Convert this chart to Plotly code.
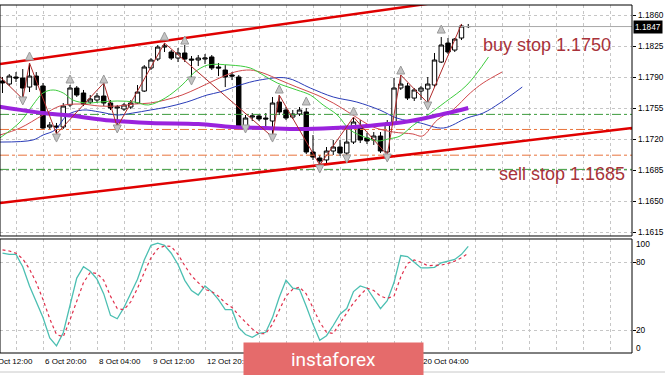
import plotly.graph_objects as go

# ---------------- data (H4 bars, index 0 = first visible bar) ----------------
bars = list(range(70))
opens = [1.17856, 1.17822, 1.17901, 1.17890, 1.17788, 1.17912, 1.17800, 1.17338, 1.17349, 1.17338,
         1.17586, 1.17777, 1.17721, 1.17619, 1.17642, 1.17687, 1.17608, 1.17552, 1.17540, 1.17563,
         1.17608, 1.17743, 1.18003, 1.18104, 1.18239, 1.18183, 1.18115, 1.18172, 1.18104, 1.18093,
         1.18104, 1.18127, 1.18014, 1.17980, 1.17924, 1.17901, 1.17326, 1.17450, 1.17462, 1.17439,
         1.17405, 1.17619, 1.17529, 1.17450, 1.17484, 1.17507, 1.17056, 1.16988, 1.16966, 1.17067,
         1.17112, 1.17044, 1.17168, 1.17338, 1.17214, 1.17191, 1.17236, 1.17056, 1.17383, 1.17777,
         1.17800, 1.17664, 1.17743, 1.17766, 1.17811, 1.18070, 1.18284, 1.18205, 1.18341, 1.18470]
highs = [1.17901, 1.17935, 1.17957, 1.17991, 1.18059, 1.17957, 1.17834, 1.17394, 1.17383, 1.17608,
         1.17811, 1.17800, 1.17755, 1.17698, 1.17721, 1.17834, 1.17642, 1.17586, 1.17608, 1.17642,
         1.17811, 1.18036, 1.18115, 1.18262, 1.18284, 1.18205, 1.18228, 1.18262, 1.18138, 1.18149,
         1.18160, 1.18149, 1.18059, 1.18036, 1.17957, 1.17924, 1.17473, 1.17495, 1.17484, 1.17495,
         1.17676, 1.17698, 1.17563, 1.17529, 1.17563, 1.17552, 1.17247, 1.17022, 1.17112, 1.17191,
         1.17191, 1.17326, 1.17450, 1.17416, 1.17270, 1.17281, 1.17281, 1.17416, 1.17890, 1.17924,
         1.17834, 1.17777, 1.17800, 1.17901, 1.18172, 1.18352, 1.18341, 1.18341, 1.18499, 1.18499]
lows = [1.17721, 1.17800, 1.17845, 1.17653, 1.17732, 1.17755, 1.17304, 1.17304, 1.17259, 1.17315,
        1.17563, 1.17676, 1.17574, 1.17597, 1.17608, 1.17574, 1.17529, 1.17338, 1.17518, 1.17540,
        1.17597, 1.17732, 1.17980, 1.18081, 1.18183, 1.18093, 1.18070, 1.18070, 1.17867, 1.18025,
        1.18048, 1.17980, 1.17912, 1.17788, 1.17867, 1.17304, 1.17304, 1.17405, 1.17405, 1.17326,
        1.17225, 1.17473, 1.17416, 1.17428, 1.17462, 1.17033, 1.16966, 1.16909, 1.16932, 1.17022,
        1.17011, 1.16999, 1.17146, 1.17157, 1.17146, 1.17135, 1.17044, 1.17022, 1.17360, 1.17755,
        1.17642, 1.17631, 1.17642, 1.17608, 1.17788, 1.18059, 1.18160, 1.18183, 1.18318, 1.18453]
closes = [1.17834, 1.17912, 1.17890, 1.17777, 1.17912, 1.17811, 1.17326, 1.17360, 1.17338, 1.17574,
          1.17777, 1.17698, 1.17597, 1.17653, 1.17687, 1.17608, 1.17552, 1.17563, 1.17586, 1.17608,
          1.17732, 1.18014, 1.18093, 1.18239, 1.18251, 1.18115, 1.18172, 1.18104, 1.18093, 1.18115,
          1.18115, 1.18003, 1.18003, 1.17901, 1.17912, 1.17326, 1.17439, 1.17462, 1.17428, 1.17428,
          1.17608, 1.17507, 1.17439, 1.17484, 1.17529, 1.17056, 1.16999, 1.16954, 1.17067, 1.17112,
          1.17044, 1.17168, 1.17394, 1.17191, 1.17180, 1.17236, 1.17067, 1.17383, 1.17777, 1.17822,
          1.17664, 1.17755, 1.17777, 1.17822, 1.18093, 1.18262, 1.18183, 1.18329, 1.18476, 1.18470]

# Alligator lines (shifted forward) and slow MA
jaw_x = [-0.4, 4.5, 6, 7.8, 9.6, 11.9, 14.4, 17, 19.3, 21.9, 24.4, 27.3, 30.3, 32.2, 35.2, 38.1,
         42.1, 45.6, 49, 52.5, 55.9, 58.4, 61.9, 65.3, 68.8, 71.2, 73.7, 77]
jaw_y = [1.17168, 1.17191, 1.17247, 1.17304, 1.17473, 1.17529, 1.17507, 1.17473, 1.17495, 1.17529,
         1.17563, 1.17619, 1.17698, 1.17732, 1.17811, 1.17867, 1.17890, 1.17777, 1.17676, 1.17619,
         1.17529, 1.17439, 1.17383, 1.17326, 1.17439, 1.17495, 1.17608, 1.17788]
teeth_x = [-0.4, 2.6, 6, 8.5, 11.5, 14.4, 17, 19.6, 21.9, 24.1, 26.6, 29, 31.5, 34.4, 36.7, 38.6,
           41.1, 43.6, 46.6, 49, 51.9, 54.9, 57.9, 60.8, 62.2, 64.4, 66.7, 69.3, 71.2, 74]
teeth_y = [1.17247, 1.17326, 1.17473, 1.17574, 1.17597, 1.17574, 1.17574, 1.17597, 1.17608, 1.17642,
           1.17698, 1.17777, 1.17867, 1.17957, 1.17980, 1.17946, 1.17867, 1.17788, 1.17698, 1.17608,
           1.17473, 1.17338, 1.17281, 1.17259, 1.17236, 1.17416, 1.17529, 1.17721, 1.17834, 1.17957]
lips_x = [-0.4, 2.6, 4.5, 6, 7.5, 9, 10.4, 12.5, 14.4, 17, 19.6, 21.6, 24.1, 26.6, 28.5, 30.4, 33.7,
          36.7, 38.6, 40.7, 43.6, 45.6, 47.5, 49.6, 51.5, 54, 55.6, 57.1, 58.9, 60.7, 62.6, 65.6, 68.8, 72]
lips_y = [1.17214, 1.17394, 1.17586, 1.17721, 1.17755, 1.17721, 1.17642, 1.17608, 1.17619, 1.17631,
          1.17619, 1.17586, 1.17664, 1.17811, 1.17957, 1.18036, 1.18036, 1.18003, 1.17924, 1.17834,
          1.17755, 1.17698, 1.17586, 1.17473, 1.17304, 1.17214, 1.17180, 1.17202, 1.17236, 1.17349,
          1.17450, 1.17619, 1.17811, 1.18127]
slow_ma_x = [-1, 6, 10, 16, 22, 29, 34, 39, 44, 49, 54, 57, 59, 62, 64, 66, 69]
slow_ma_y = [1.17574, 1.17495, 1.17467, 1.17411, 1.17383, 1.17371, 1.17338, 1.17326, 1.17315,
             1.17326, 1.17349, 1.17371, 1.17388, 1.17428, 1.17462, 1.17495, 1.17552]

# ZigZag pivots
zigzag_x = [-2, 3, 4, 8, 15, 17, 24, 40, 41, 47, 52, 57, 59, 63, 68]
zigzag_y = [1.18025, 1.17653, 1.18059, 1.17259, 1.17834, 1.17338, 1.18284, 1.17225, 1.17698,
            1.16909, 1.17450, 1.17022, 1.17924, 1.17608, 1.18499]

# Fractals
frac_up_x = [4, 10, 15, 24, 27, 41, 45, 52, 59, 65]
frac_up_y = [1.18183, 1.17924, 1.17924, 1.18408, 1.18363, 1.17811, 1.17676, 1.17563, 1.18025, 1.18487]
frac_dn_x = [3, 8, 17, 28, 36, 40, 47, 51, 57, 63]
frac_dn_y = [1.17586, 1.17168, 1.17270, 1.17811, 1.17270, 1.17168, 1.16819, 1.16932, 1.16943, 1.17529]

# Channel lines (two points each)
channel_up_x = [-0.37, 93.26]
channel_up_y = [1.18048, 1.19051]
channel_lo_x = [-0.37, 93.26]
channel_lo_y = [1.16481, 1.17326]

# Horizontal levels
levels_green = [1.1748, 1.1686]
levels_orange = [1.1731, 1.1702]
current_price = 1.1847

# Stochastic
stoch_main = [88, 87, 87, 76, 59, 45, 31, 13, 6, 17.6, 42, 66, 76, 72, 65, 52, 33, 30, 40, 52,
              65, 82, 95, 97, 95, 88, 78, 64, 55, 51, 59, 54, 47, 38, 38, 22, 16, 13.5, 17, 18,
              31, 49, 64, 57, 56, 41, 25, 11, 15, 24, 34, 39, 54, 59, 57, 48, 39, 46, 62, 86,
              85, 80, 75, 75, 75.5, 79.5, 81, 82.5, 87, 94]
stoch_signal = [91, 90, 88, 83, 74, 62, 47, 30, 16, 14, 29, 46, 62, 71, 70, 64, 50, 39, 38, 45,
                57, 71, 84, 92, 94.5, 94, 87, 77, 68, 62, 56, 54, 50, 44, 40, 33, 27, 21, 16.5, 17,
                25, 37, 50, 56, 58, 52, 40, 27, 18, 17, 26, 35, 44, 51, 57, 55, 50, 48, 50, 67,
                79, 82, 80, 77, 77, 77.5, 79, 81, 84, 88]
stoch_levels = [100, 80, 20, 0]

# Axis labels (those visible in the picture; the rest are hidden behind the logo)
price_ticks = [1.1860, 1.1825, 1.1790, 1.1755, 1.1720, 1.1685, 1.1650, 1.1615]
date_labels = ["5 Oct 12:00", "6 Oct 20:00", "8 Oct 04:00", "9 Oct 12:00", "12 Oct 20:00",
               "20 Oct 04:00"]
date_label_bars = [-2, 6, 14, 22, 30, 62]

notes = ["buy stop 1.1750", "sell stop 1.1685"]
note_x = [80.7, 82.9]
note_y = [1.18262, 1.16808]

# ---------------- figure ----------------
XR = [-0.37, 93.26]
GRID = '#C6C6C6'
FONT = 'Liberation Sans, Arial, sans-serif'

fig = go.Figure()

for lv in levels_green:
    fig.add_trace(go.Scatter(x=XR, y=[lv, lv], mode='lines', yaxis='y',
                             line=dict(color='#3C9A3C', width=1, dash='dashdot'), hoverinfo='skip'))
for lv in levels_orange:
    fig.add_trace(go.Scatter(x=XR, y=[lv, lv], mode='lines', yaxis='y',
                             line=dict(color='#E8733C', width=1, dash='dashdot'), hoverinfo='skip'))
fig.add_trace(go.Scatter(x=XR, y=[current_price, current_price], mode='lines', yaxis='y',
                         line=dict(color='#A8A8A8', width=1), hoverinfo='skip'))

fig.add_trace(go.Scatter(x=jaw_x, y=jaw_y, mode='lines', line=dict(color='#2A3CB8', width=1, shape='spline'), yaxis='y'))
fig.add_trace(go.Scatter(x=teeth_x, y=teeth_y, mode='lines', line=dict(color='#D0494B', width=1, shape='spline'), yaxis='y'))
fig.add_trace(go.Scatter(x=lips_x, y=lips_y, mode='lines', line=dict(color='#3ECC3E', width=1, shape='spline'), yaxis='y'))
fig.add_trace(go.Scatter(x=slow_ma_x, y=slow_ma_y, mode='lines', line=dict(color='#9A22DD', width=4, shape='spline'), yaxis='y'))

fig.add_trace(go.Scatter(x=channel_up_x, y=channel_up_y, mode='lines', line=dict(color='#E00000', width=2.5), yaxis='y'))
fig.add_trace(go.Scatter(x=channel_lo_x, y=channel_lo_y, mode='lines', line=dict(color='#E00000', width=2.5), yaxis='y'))

fig.add_trace(go.Scatter(x=zigzag_x, y=zigzag_y, mode='lines', line=dict(color='#B02A2A', width=1), yaxis='y'))

fig.add_trace(go.Candlestick(x=bars, open=opens, high=highs, low=lows, close=closes,
                             increasing=dict(fillcolor='white', line=dict(color='black', width=1)),
                             decreasing=dict(fillcolor='black', line=dict(color='black', width=1)),
                             whiskerwidth=0, yaxis='y', xaxis='x'))

fig.add_trace(go.Scatter(x=frac_up_x, y=frac_up_y, mode='markers', yaxis='y',
                         marker=dict(symbol='arrow-up', size=8, color='#C4C4C4', line=dict(color='#9A9A9A', width=1))))
fig.add_trace(go.Scatter(x=frac_dn_x, y=frac_dn_y, mode='markers', yaxis='y',
                         marker=dict(symbol='arrow-down', size=8, color='#C4C4C4', line=dict(color='#9A9A9A', width=1))))

fig.add_trace(go.Scatter(x=bars, y=stoch_main, mode='lines', yaxis='y2',
                         line=dict(color='#4CBFB2', width=1.3)))
fig.add_trace(go.Scatter(x=bars, y=stoch_signal, mode='lines', yaxis='y2',
                         line=dict(color='#E0304C', width=1.2, dash='dot')))

MAIN_DOM = [0.33621, 1.0]
STO_DOM = [0.0, 0.32759]

annotations = []
for t, xb, yv in zip(notes, note_x, note_y):
    annotations.append(dict(text=t, x=xb, y=yv, xref='x', yref='y', showarrow=False,
                            xanchor='center', yanchor='middle',
                            font=dict(family=FONT, size=18, color='#A8323A')))
for v in price_ticks:
    annotations.append(dict(text=f'{v:.4f}', x=1.0, xref='paper', xanchor='left', xshift=4,
                            y=v, yref='y', yanchor='middle', showarrow=False,
                            font=dict(family=FONT, size=8.3, color='black')))
annotations.append(dict(text=f'{current_price:.4f}', x=1.0, xref='paper', xanchor='left', xshift=1,
                        y=current_price, yref='y', yanchor='middle', showarrow=False,
                        bgcolor='black', borderpad=1, font=dict(family=FONT, size=8.3, color='white')))
shifts = {100: -4, 80: 0, 20: 0, 0: 5}
for lv in stoch_levels:
    annotations.append(dict(text=str(lv), x=1.0, xref='paper', xanchor='left', xshift=2,
                            y=lv, yref='y2', yanchor='middle', yshift=shifts[lv], showarrow=False,
                            font=dict(family=FONT, size=8.3, color='black')))
for lab, b in zip(date_labels, date_label_bars):
    px = (b - XR[0]) / (XR[1] - XR[0])
    annotations.append(dict(text=lab, x=px, xref='paper', xanchor='left', y=0, yref='paper',
                            yanchor='middle', yshift=-8, showarrow=False,
                            font=dict(family=FONT, size=8, color='black')))
annotations.append(dict(text='instaforex', x=(333.5 / 632), xref='paper', y=(353 - 359.5) / 348,
                        yref='paper', xanchor='center', yanchor='middle', showarrow=False,
                        width=177, height=31, bgcolor='#E56B6B',
                        font=dict(family='Roboto, sans-serif', size=19, color='white')))

shapes = [
    dict(type='rect', xref='paper', yref='paper', x0=0, x1=1, y0=MAIN_DOM[0], y1=MAIN_DOM[1],
         line=dict(color='black', width=1), layer='above'),
    dict(type='rect', xref='paper', yref='paper', x0=0, x1=1, y0=STO_DOM[0], y1=STO_DOM[1],
         line=dict(color='black', width=1), layer='above'),
    dict(type='line', xref='paper', yref='paper', x0=0, x1=1.06, y0=(353 - 372) / 348, y1=(353 - 372) / 348,
         line=dict(color='#C8C8C8', width=1)),
]

fig.update_layout(
    width=665, height=375, margin=dict(l=0, r=33, t=5, b=22),
    paper_bgcolor='white', plot_bgcolor='white', showlegend=False,
    boxgap=0.35, boxgroupgap=0,
    xaxis=dict(domain=[0, 1], range=XR, anchor='y2', showgrid=True, gridcolor=GRID,
               griddash='3px,3px', gridwidth=1, tick0=2, dtick=4, showticklabels=False,
               ticks='', zeroline=False, showline=False, rangeslider=dict(visible=False)),
    yaxis=dict(domain=MAIN_DOM, range=[1.16109, 1.18713], side='right', anchor='x',
               tickvals=price_ticks, showticklabels=False,
               showgrid=True, gridcolor=GRID, griddash='3px,3px', gridwidth=1,
               ticks='outside', ticklen=3, tickcolor='black', zeroline=False),
    yaxis2=dict(domain=STO_DOM, range=[-0.35, 100.6], side='right', anchor='x',
                tickvals=[20, 80], showticklabels=False, showgrid=True, gridcolor=GRID,
                griddash='3px,3px', gridwidth=1, ticks='outside', ticklen=3, tickcolor='black',
                zeroline=False),
    annotations=annotations, shapes=shapes,
)

fig.write_html("out.html", config={'displayModeBar': False},
               post_script="document.body.style.margin='0';document.body.style.overflow='hidden';")
